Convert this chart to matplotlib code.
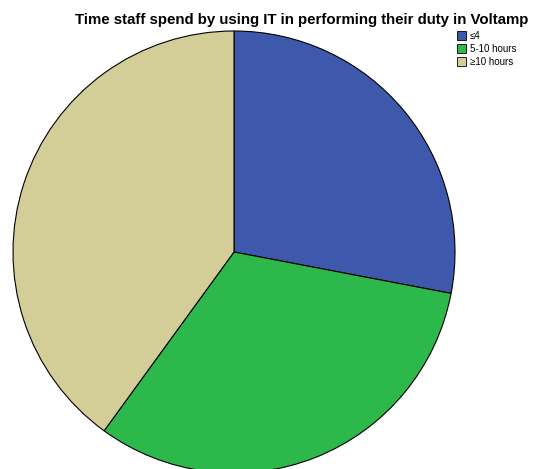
import matplotlib.pyplot as plt
from matplotlib.patches import Patch

# categories and shares (percent of staff)
categories = ["\u22644", "5-10 hours", "\u226510 hours"]
shares = [28, 32, 40]
colors = ["#3e58ac", "#2db84b", "#d3ce98"]

W, H = 535, 469
fig = plt.figure(figsize=(W / 100, H / 100), dpi=100)

# pie centre and radius in pixels
cx, cy, r = 234, 252, 221
ax = fig.add_axes([(cx - r) / W, (H - cy - r) / H, 2 * r / W, 2 * r / H])
ax.pie(shares, colors=colors, startangle=90, counterclock=False,
       wedgeprops=dict(edgecolor="black", linewidth=0.8), radius=1)
ax.set_xlim(-1, 1)
ax.set_ylim(-1, 1)
ax.set_aspect("equal")
ax.axis("off")

fig.text(75 / W, 1 - 24 / H, "Time staff spend by using IT in performing their duty in Voltamp",
         fontsize=10.85, fontweight="bold", ha="left", va="baseline", family="Liberation Sans")

handles = [Patch(facecolor=c, edgecolor="black", linewidth=0.6) for c in colors]
fig.legend(handles, categories, loc="upper left", bbox_to_anchor=(457 / W, 1 - 31 / H),
           frameon=False, handlelength=0.95, handleheight=1.0,
           handletextpad=0.35, labelspacing=0.3, borderaxespad=0, borderpad=0,
           prop={"family": "Liberation Sans", "size": 7})

fig.savefig("out.png", dpi=100)
